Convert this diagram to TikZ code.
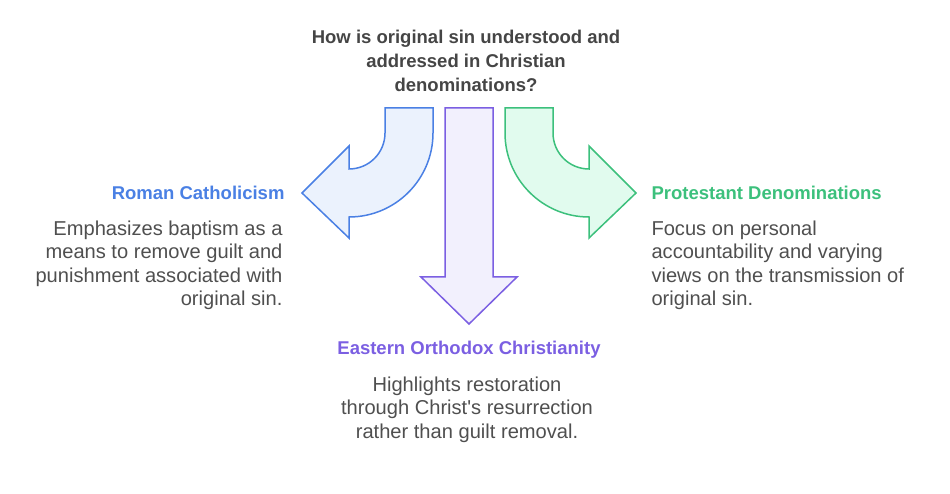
\documentclass[tikz,border=0pt]{standalone}
\usepackage{fontspec}
\setmainfont{Liberation Sans}
\definecolor{catholic}{HTML}{4A80E4}
\definecolor{catholicfill}{HTML}{EBF2FD}
\definecolor{orthodox}{HTML}{7B5FE2}
\definecolor{orthodoxfill}{HTML}{F2F0FD}
\definecolor{protestant}{HTML}{3CC07C}
\definecolor{protestantfill}{HTML}{E1FBEE}
\definecolor{titlegray}{HTML}{454545}
\definecolor{bodygray}{HTML}{4F4F4F}
\begin{document}
\begin{tikzpicture}[line join=miter,x=1pt,y=-1pt,
  arrowshape/.style={line width=1.5pt},
  heading/.style={font=\fontsize{18.5}{24}\selectfont\bfseries},
  bodytext/.style={font=\fontsize{20.1}{23.5}\selectfont,text=bodygray}]
	\useasboundingbox (0,0) rectangle (950,494);
	% title
	\node[heading,text=titlegray,align=center] (question) at (466,61) {How is original sin understood and\\addressed in Christian\\denominations?};
	% curved arrow to the left
	\draw [arrowshape,draw=catholic,fill=catholicfill] (385,108) -- (433,108) -- (433,133) arc[start angle=0,end angle=90,radius=84] -- (349,238) -- (302,193) -- (349,146) -- (349,169) arc[start angle=90,end angle=0,radius=36] -- cycle;
	% straight arrow down
	\draw [arrowshape,draw=orthodox,fill=orthodoxfill] (445,108) -- (493,108) -- (493,277) -- (517,277) -- (469,324) -- (421,277) -- (445,277) -- cycle;
	% curved arrow to the right
	\draw [arrowshape,draw=protestant,fill=protestantfill] (553,108) -- (505,108) -- (505,133) arc[start angle=180,end angle=90,radius=84] -- (589,238) -- (636,193) -- (589,146) -- (589,169) arc[start angle=90,end angle=180,radius=36] -- cycle;
	% labels
	\node[heading,text=catholic,anchor=east] (catholichead) at (288,193) {Roman Catholicism};
	\node[bodytext,align=right,anchor=north east] (catholicbody) at (286,217) {Emphasizes baptism as a\\means to remove guilt and\\punishment associated with\\original sin.};
	\node[heading,text=protestant,anchor=west] (protestanthead) at (648,193) {Protestant Denominations};
	\node[bodytext,align=left,anchor=north west] (protestantbody) at (648,217) {Focus on personal\\accountability and varying\\views on the transmission of\\original sin.};
	\node[heading,text=orthodox] (orthodoxhead) at (469,350) {Eastern Orthodox Christianity};
	\node[bodytext,align=center,anchor=north] (orthodoxbody) at (467,373) {Highlights restoration\\through Christ\textquotesingle s resurrection\\rather than guilt removal.};
\end{tikzpicture}
\end{document}
